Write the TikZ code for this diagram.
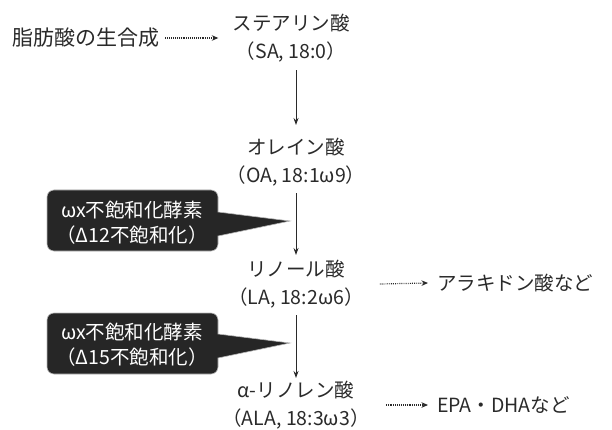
\documentclass[tikz,border=0pt]{standalone}
\usepackage{fontspec}
\setmainfont{Noto Sans CJK JP}
\usetikzlibrary{arrows.meta,calc}
\definecolor{txt}{HTML}{2A2A2A}
\definecolor{boxc}{HTML}{262626}
\tikzset{
  acid/.style={align=center, font=\fontsize{19.5}{28}\selectfont, text=txt, inner sep=2pt},
  lbl/.style={font=\fontsize{19.5}{24}\selectfont, text=txt, inner sep=1pt, anchor=west},
  flow/.style={draw=txt, line width=0.9pt, -{Stealth[length=7pt,width=5pt]}},
  dots/.style={draw=txt, line width=1.2pt, dash pattern=on 0.8pt off 1.1pt, -{Stealth[length=6.5pt,width=5.5pt]}},
  callout/.style={fill=boxc, draw=gray!55, line width=0.6pt},
  ctext/.style={align=center, text=white, font=\fontsize{19.5}{25}\selectfont}
}
\begin{document}
\begin{tikzpicture}[x=1pt,y=-1pt]
\useasboundingbox (0,0) rectangle (612,430);
\node[lbl, font=\fontsize{21}{24}\selectfont] (src) at (11,38) {脂肪酸の生合成};
\node[acid] (sa) at (291,38) {ステアリン酸\\（SA, 18:0）};
\node[acid] (oa) at (296,162) {オレイン酸\\（OA, 18:1ω9）};
\node[acid] (la) at (296,284) {リノール酸\\（LA, 18:2ω6）};
\node[acid] (ala) at (296,405) {α-リノレン酸\\（ALA, 18:3ω3）};
\node[lbl] (ara) at (436,283) {アラキドン酸など};
\node[lbl] (epa) at (436,405) {EPA・DHAなど};

\coordinate (x0) at (296,0);
\draw[dots] ($(src.east)+(5,0)$) -- ($(sa.west)+(-12,0)$);
\draw[flow] (x0 |- sa.south) ++(0,6) coordinate (s1) -- (s1 |- 0,125);
\draw[flow] (oa.south) ++(0,5) coordinate (s2) -- (s2 |- 0,255);
\draw[flow] (la.south) ++(0,5) coordinate (s3) -- (s3 |- 0,378);
\draw[dots] ($(la.east)+(14,0)$) -- ($(ara.west)+(-8,0)$);
\draw[dots] ($(ala.east)+(14,0)$) -- ($(epa.west)+(-8,0)$);

\coordinate (t1) at (290,221);
\path[callout] (47,220) [rounded corners=7] -- (47,190) -- (218,190) [sharp corners] -- (218,212) -- (t1) -- (218,236) [rounded corners=7] -- (218,251) -- (47,251) [sharp corners] -- cycle;
\node[ctext] (c1) at (132,223) {ωx不飽和化酵素\\（Δ12不飽和化）};

\coordinate (t2) at (290,343);
\path[callout] (47,343) [rounded corners=7] -- (47,313) -- (218,313) [sharp corners] -- (218,334) -- (t2) -- (218,358) [rounded corners=7] -- (218,374) -- (47,374) [sharp corners] -- cycle;
\node[ctext] (c2) at (132,345) {ωx不飽和化酵素\\（Δ15不飽和化）};
\end{tikzpicture}
\end{document}
